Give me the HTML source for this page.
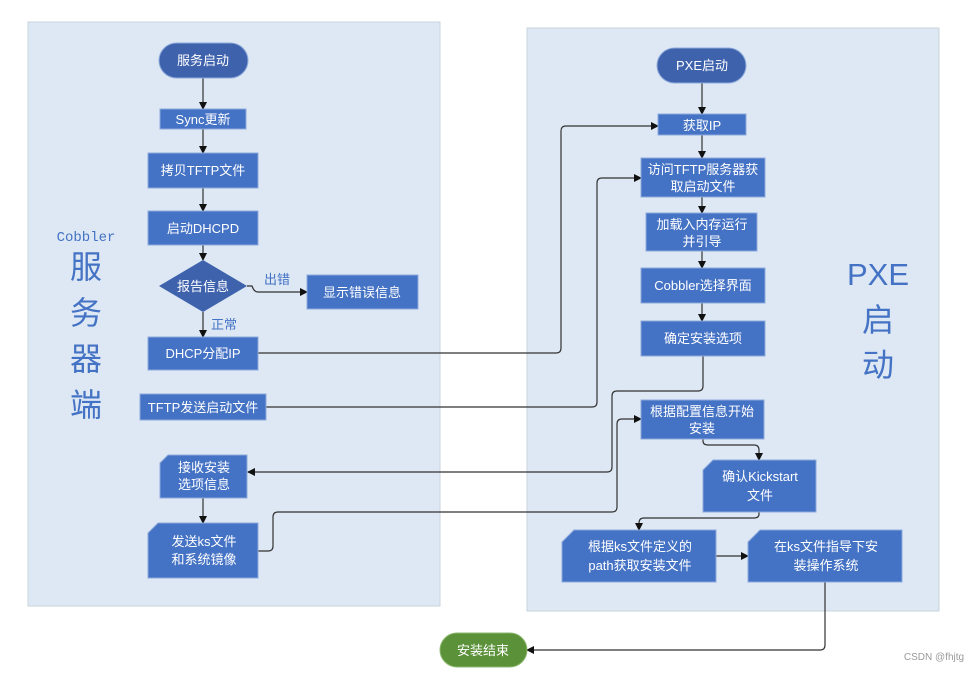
<!DOCTYPE html>
<html><head><meta charset="utf-8"><style>
body{margin:0;background:#fff;}
svg{display:block;font-family:"Liberation Sans","Noto Sans CJK SC",sans-serif;}
.b{fill:#4472c4;stroke:#8eaadb;stroke-width:1;}
.t{fill:#fff;font-size:13px;text-anchor:middle;}
.l{fill:none;stroke:#333;stroke-width:1.2;}
.lb{fill:#4472c4;text-anchor:middle;}
</style></head><body>
<svg width="979" height="673" viewBox="0 0 979 673">
<defs><marker id="a" markerWidth="8" markerHeight="8" refX="7" refY="4" orient="auto" markerUnits="userSpaceOnUse"><path d="M0,0 L8,4 L0,8z" fill="#111"/></marker></defs>
<rect x="28" y="22" width="412" height="584" fill="#dde8f4" stroke="#c9d3dd"/>
<rect x="527" y="28" width="412" height="583" fill="#dde8f4" stroke="#c9d3dd"/>

<text x="86" y="241" class="lb" font-size="14" font-family="Liberation Mono,monospace">Cobbler</text>
<text x="86" y="278" class="lb" font-size="32">服</text>
<text x="86" y="324" class="lb" font-size="32">务</text>
<text x="86" y="370" class="lb" font-size="32">器</text>
<text x="86" y="416" class="lb" font-size="32">端</text>
<text x="878" y="285" class="lb" font-size="31">PXE</text>
<text x="878" y="331" class="lb" font-size="32">启</text>
<text x="878" y="376" class="lb" font-size="32">动</text>

<!-- connectors -->
<path class="l" d="M203,78 V109" marker-end="url(#a)"/>
<path class="l" d="M203,129 V153" marker-end="url(#a)"/>
<path class="l" d="M203,188 V211" marker-end="url(#a)"/>
<path class="l" d="M203,245 V260" marker-end="url(#a)"/>
<path class="l" d="M203,312 V337" marker-end="url(#a)"/>
<path class="l" d="M247,286 H252 Q254,292 258,292 H307" marker-end="url(#a)"/>
<path class="l" d="M203,498 V523" marker-end="url(#a)"/>
<path class="l" d="M258,353 H556 Q561,353 561,348 V131 Q561,126 566,126 H658" marker-end="url(#a)"/>
<path class="l" d="M266,407 H592 Q597,407 597,402 V183 Q597,178 602,178 H641" marker-end="url(#a)"/>
<path class="l" d="M703,356 V386 Q703,391 698,391 H617 Q612,391 612,396 V467 Q612,472 607,472 H248" marker-end="url(#a)"/>
<path class="l" d="M258,551 H268 Q273,551 273,546 V517 Q273,512 278,512 H612 Q617,512 617,507 V424 Q617,419 622,419 H641" marker-end="url(#a)"/>
<path class="l" d="M702,83 V114" marker-end="url(#a)"/>
<path class="l" d="M702,135 V158" marker-end="url(#a)"/>
<path class="l" d="M702,197 V213" marker-end="url(#a)"/>
<path class="l" d="M702,251 V268" marker-end="url(#a)"/>
<path class="l" d="M702,303 V321" marker-end="url(#a)"/>
<path class="l" d="M703,439 V441 Q703,445 708,445 H754 Q759,445 759,450 V460" marker-end="url(#a)"/>
<path class="l" d="M759,512 V514 Q759,518 754,518 H644 Q639,518 639,523 V530" marker-end="url(#a)"/>
<path class="l" d="M716,556 H748" marker-end="url(#a)"/>
<path class="l" d="M825,582 V645 Q825,650 820,650 H527" marker-end="url(#a)"/>

<!-- left nodes -->
<rect x="159" y="43" width="89" height="35" rx="17.5" fill="#3f62ad" stroke="#8eaadb"/>
<text x="203" y="65" class="t">服务启动</text>
<rect class="b" x="160" y="109" width="86" height="20"/><text x="203" y="124" class="t">Sync更新</text>
<rect class="b" x="148" y="153" width="110" height="35"/><text x="203" y="175" class="t">拷贝TFTP文件</text>
<rect class="b" x="148" y="211" width="110" height="34"/><text x="203" y="233" class="t">启动DHCPD</text>
<path d="M203,260 L247,286 L203,312 L159,286z" fill="#3f62ad"/><text x="203" y="291" class="t">报告信息</text>
<text x="277" y="284" class="lb" font-size="13">出错</text>
<text x="224" y="329" class="lb" font-size="13">正常</text>
<rect class="b" x="307" y="275" width="111" height="34"/><text x="362" y="297" class="t">显示错误信息</text>
<rect class="b" x="148" y="337" width="110" height="33"/><text x="203" y="358" class="t">DHCP分配IP</text>
<rect class="b" x="140" y="394" width="126" height="26"/><text x="203" y="412" class="t">TFTP发送启动文件</text>
<path class="b" d="M168,455 H247 V498 H160 V463z"/><text x="204" y="472" class="t">接收安装</text><text x="204" y="489" class="t">选项信息</text>
<path class="b" d="M158,523 H258 V578 H148 V533z"/><text x="204" y="546" class="t">发送ks文件</text><text x="204" y="564" class="t">和系统镜像</text>

<!-- right nodes -->
<rect x="657" y="48" width="89" height="35" rx="17.5" fill="#3f62ad" stroke="#8eaadb"/>
<text x="702" y="70" class="t">PXE启动</text>
<rect class="b" x="658" y="114" width="88" height="21"/><text x="702" y="130" class="t">获取IP</text>
<rect class="b" x="641" y="158" width="124" height="39"/><text x="703" y="174" class="t">访问TFTP服务器获</text><text x="703" y="191" class="t">取启动文件</text>
<rect class="b" x="646" y="213" width="111" height="38"/><text x="702" y="229" class="t">加载入内存运行</text><text x="702" y="246" class="t">并引导</text>
<rect class="b" x="641" y="268" width="124" height="35"/><text x="703" y="290" class="t">Cobbler选择界面</text>
<rect class="b" x="641" y="321" width="124" height="35"/><text x="703" y="343" class="t">确定安装选项</text>
<rect class="b" x="641" y="400" width="123" height="39"/><text x="702" y="416" class="t">根据配置信息开始</text><text x="702" y="433" class="t">安装</text>
<path class="b" d="M713,460 H816 V512 H703 V470z"/><text x="760" y="481" class="t">确认Kickstart</text><text x="760" y="500" class="t">文件</text>
<path class="b" d="M574,530 H716 V582 H562 V542z"/><text x="640" y="551" class="t">根据ks文件定义的</text><text x="640" y="570" class="t">path获取安装文件</text>
<path class="b" d="M760,530 H902 V582 H748 V542z"/><text x="826" y="551" class="t">在ks文件指导下安</text><text x="826" y="570" class="t">装操作系统</text>

<rect x="440" y="633" width="87" height="34" rx="17" fill="#5b9138" stroke="#8cb870"/>
<text x="483" y="655" class="t">安装结束</text>
<text x="934" y="660" fill="#999" font-size="10" text-anchor="middle">CSDN @fhjtg</text>
</svg>
</body></html>
